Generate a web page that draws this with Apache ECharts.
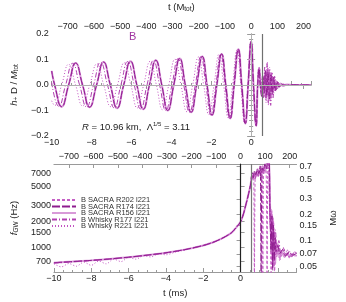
<!DOCTYPE html>
<html><head><meta charset="utf-8">
<script src="https://cdn.jsdelivr.net/npm/echarts@6/dist/echarts.min.js"></script>
<style>html,body{margin:0;padding:0;background:#fff}#c{width:346px;height:302px}</style>
</head><body><div id="c"></div>
<script>
// ---------------- DATA ----------------
const seriesNames = ['B SACRA R202 l221','B SACRA R174 l221','B SACRA R156 l221','B Whisky R177 l221','B Whisky R221 l221'];

// top panel: h+ D / Mtot vs t (ms)
const tPreSacra = [-10,-9.85,-9.50,-9.15,-8.80,-8.45,-8.10,-7.75,-7.40,-7.06,-6.72,-6.39,-6.05,-5.73,-5.41,-5.10,-4.78,-4.48,-4.18,-3.88,-3.58,-3.30,-3.01,-2.73,-2.45,-2.21,-1.96,-1.72,-1.48,-1.27,-1.05,-0.85,-0.64,-0.47,-0.29,-0.15,0.0,0.12,0.25];
const hPreSacra = [0.055,0,-0.085,0,0.086,0,-0.087,0,0.090,0,-0.091,0,0.093,0,-0.095,0,0.097,0,-0.100,0,0.104,0,-0.107,0,0.112,0,-0.118,0,0.122,0,-0.131,0,0.140,0,-0.151,0,0.171,0,-0.160];
const tPostR202 = [0.33,0.41,0.48,0.54,0.61,0.68,0.74,0.81,0.87,0.93,1.00,1.07,1.14,1.22,1.31,1.42,1.55,1.75,2.1,2.6,3.0];
const hPostR202 = [0,0.066,0.01,-0.03,0.035,-0.045,0.06,-0.035,0.065,-0.06,0.05,-0.04,0.03,-0.02,0.012,-0.007,0.003,-0.002,0.001,0,0];
const tPostR174 = [0.33,0.40,0.46,0.53,0.60,0.66,0.72,0.79,0.85,0.92,0.99,1.06,1.13,1.21,1.30,1.40,1.52,1.7,2.0,2.4,3.0];
const hPostR174 = [0,0.062,-0.005,-0.045,0.03,-0.03,0.055,-0.04,0.05,-0.055,0.04,-0.035,0.03,-0.022,0.014,-0.008,0.004,-0.002,0.001,0,0];
const tPostR156 = [0.33,0.40,0.47,0.52,0.58,0.64,0.70,0.76,0.82,0.88,0.95,1.02,1.09,1.17,1.25,1.35,1.47,1.6,1.8,2.1,2.5,3.0];
const hPostR156 = [0,0.068,0.0,-0.035,0.02,-0.04,0.045,-0.05,0.04,-0.04,0.035,-0.03,0.028,-0.02,0.015,-0.01,0.006,-0.004,0.002,0,0,0];
const tW177 = [-10,-9.64,-9.30,-8.95,-8.60,-8.25,-7.90,-7.55,-7.20,-6.86,-6.53,-6.19,-5.86,-5.54,-5.22,-4.90,-4.59,-4.28,-3.97,-3.67,-3.38,-3.09,-2.80,-2.52,-2.27,-2.02,-1.77,-1.53,-1.31,-1.09,-0.88,-0.67,-0.49,-0.31,-0.16,-0.01,0.11,0.24,
  0.32,0.39,0.45,0.50,0.56,0.62,0.68,0.74,0.80,0.86,0.92,0.98,1.04,1.10,1.17,1.25,1.34,1.45,1.6,1.8,2.2,3.0];
const hW177 = [0.01,-0.084,0,0.085,0,-0.086,0,0.089,0,-0.090,0,0.092,0,-0.094,0,0.096,0,-0.099,0,0.103,0,-0.106,0,0.111,0,-0.117,0,0.121,0,-0.130,0,0.138,0,-0.150,0,0.168,0,-0.155,
  0,0.07,0.0,-0.02,0.03,-0.05,0.07,-0.06,0.085,-0.07,0.06,-0.08,0.05,-0.05,0.035,-0.025,0.015,-0.008,0.004,-0.002,0.001,0];
const tW221 = [-10,-9.85,-9.50,-9.15,-8.80,-8.45,-8.09,-7.73,-7.39,-7.04,-6.70,-6.36,-6.03,-5.71,-5.39,-5.06,-4.75,-4.44,-4.13,-3.82,-3.52,-3.22,-2.93,-2.64,-2.38,-2.12,-1.86,-1.61,-1.38,-1.15,-0.93,-0.71,-0.52,-0.33,-0.17,-0.02,0.10,0.23,
  0.31,0.38,0.44,0.50,0.57,0.63,0.69,0.75,0.81,0.87,0.93,0.99,1.05,1.12,1.19,1.27,1.36,1.48,1.65,1.9,3.0];
const hW221 = [-0.062,-0.080,0,0.081,0,-0.082,0,0.083,0,-0.085,0,0.087,0,-0.090,0,0.093,0,-0.097,0,0.101,0,-0.105,0,0.110,0,-0.116,0,0.121,0,-0.129,0,0.137,0,-0.148,0,0.165,0,-0.150,
  0,0.065,0.005,-0.03,0.04,-0.035,0.06,-0.07,0.09,-0.08,0.07,-0.06,0.05,-0.04,0.03,-0.02,0.012,-0.006,0.003,0,0];

// bottom panel: f_GW (Hz) vs t (ms)
const tFPre = [-10,-9,-8,-7,-6,-5,-4,-3,-2,-1.5,-1,-0.5,-0.25,0,0.15,0.3,0.4,0.5];
const fPre  = [670,690,712,740,775,818,870,945,1055,1140,1270,1470,1680,1970,2400,3200,3900,4800];
const tFR202 = [0.55,0.6,0.65,0.7,0.74,0.78,0.85,0.92,1.0,1.08,1.15,1.19,1.23,1.3,1.37,1.42,1.46,1.52,1.58,1.64,1.68,1.72,1.77,1.82,1.88,1.95,2.05,2.2,2.4,2.6,2.8,3.0];
const fR202  = [5500,6800,6000,7100,400,6500,7400,6600,7800,7000,8200,350,7800,8800,7600,400,9000,10000,2800,450,2400,600,2000,500,1300,850,1050,800,900,760,850,800];
const tFR174 = [0.55,0.62,0.68,0.75,0.82,0.9,0.98,1.05,1.1,1.15,1.22,1.3,1.38,1.45,1.52,1.58,1.63,1.68,1.72,1.76,1.8,1.85,1.9,2.0,2.1,2.25,2.4,2.6,2.8,3.0];
const fR174  = [5500,7200,6300,7600,6800,8000,7000,8600,450,8200,7500,9000,8000,9800,11000,2500,900,2300,550,1800,700,1300,900,1050,850,950,800,880,820,860];
const tFR156 = [0.55,0.6,0.66,0.72,0.8,0.88,0.96,1.04,1.12,1.2,1.28,1.36,1.44,1.52,1.58,1.62,1.66,1.7,1.74,1.78,1.82,1.86,1.9,1.95,2.0,2.1,2.2,2.35,2.5,2.65,2.8,2.95,3.0];
const fR156  = [5500,6600,6100,7000,6400,7300,6700,7600,6900,7900,7200,8300,9600,10500,3000,1400,2700,700,2200,600,1500,650,1200,800,1100,750,900,780,850,800,830,810,820];
const tFW177 = [-10,-9,-8,-7,-6,-5,-4,-3,-2,-1.5,-1,-0.5,-0.25,0,0.3,0.5,
  0.55,0.62,0.7,0.78,0.86,0.94,1.02,1.1,1.18,1.26,1.34,1.42,1.5,1.56,1.62,1.7,1.78,1.86,1.95,2.05,2.15,2.3,2.45,2.6,2.75,2.9,3.0];
const fW177  = [660,685,708,738,772,815,866,942,1052,1138,1268,1468,1675,1965,3180,4780,
  5400,6200,7000,6100,7300,6500,7700,6800,8100,7300,8600,7800,9200,2400,1700,2100,1200,1600,1000,1200,850,980,800,920,780,900,850];
const tFW221 = [-10,-9.6,-9.2,-8.8,-8.4,-8.0,-7.6,-7.2,-6.8,-6.4,-6.0,-5.6,-5.2,-4.8,-4.4,-4.0,-3.5,-3.0,-2.5,-2.0,-1.5,-1.0,-0.5,0,0.3,0.5,
  0.55,0.6,0.67,0.74,0.81,0.88,0.95,1.02,1.09,1.16,1.23,1.3,1.38,1.46,1.54,1.6,1.66,1.72,1.8,1.9,2.0,2.1,2.2,2.3,2.4,2.5,2.6,2.7,2.8,2.9,3.0];
const fW221  = [650,600,655,610,680,625,700,650,735,690,770,735,805,780,845,825,885,935,995,1050,1140,1265,1465,1960,3150,4750,
  5400,6900,5900,7500,6300,7900,6600,8300,7000,8800,7400,9300,8000,9900,3500,1800,2600,1100,1500,780,950,700,880,1000,820,950,760,870,820,900,840];

// axis ticks
const msTicks = [-10,-8,-6,-4,-2,0,2];
const mTicks = [-700,-600,-500,-400,-300,-200,-100,0,100,200];
const fTicks = [700,1000,1500,2000,3000,5000,7000];
const mwTicks = [0.05,0.07,0.1,0.15,0.2,0.3,0.5,0.7];

// ---------------- CHART ----------------
const FONT = "'Liberation Sans', Arial, sans-serif";
const FRAME = '#9a9a9a';
const TXT = '#222';
const zip = (xs, ys) => xs.map((x, i) => [x, ys[i]]);
const minus = v => (v < 0 ? '\u2212' + String(Math.abs(v)) : String(v));

const lineStyles = {
  'B SACRA R202 l221': {color:'#c55ec5', type:[3,2], width:1},
  'B SACRA R174 l221': {color:'#8e1c8e', type:[8,2], width:1},
  'B SACRA R156 l221': {color:'#d89ad8', type:'solid', width:2},
  'B Whisky R177 l221': {color:'#b040b0', type:[5,2,1,2], width:1},
  'B Whisky R221 l221': {color:'#c254c2', type:[1,2], width:1}
};
const drawOrder = ['B SACRA R156 l221','B Whisky R221 l221','B Whisky R177 l221','B SACRA R202 l221','B SACRA R174 l221'];

const topData = {
  'B SACRA R202 l221': zip(tPreSacra, hPreSacra).concat(zip(tPostR202, hPostR202)),
  'B SACRA R174 l221': zip(tPreSacra, hPreSacra).concat(zip(tPostR174, hPostR174)),
  'B SACRA R156 l221': zip(tPreSacra, hPreSacra).concat(zip(tPostR156, hPostR156)),
  'B Whisky R177 l221': zip(tW177, hW177),
  'B Whisky R221 l221': zip(tW221, hW221)
};
const botData = {
  'B SACRA R202 l221': zip(tFPre, fPre).concat(zip(tFR202, fR202)),
  'B SACRA R174 l221': zip(tFPre, fPre).concat(zip(tFR174, fR174)),
  'B SACRA R156 l221': zip(tFPre, fPre).concat(zip(tFR156, fR156)),
  'B Whisky R177 l221': zip(tFW177, fW177),
  'B Whisky R221 l221': zip(tFW221, fW221)
};

const series = [];
drawOrder.forEach((name, k) => {
  const ls = lineStyles[name];
  const s = {
    name, type:'line', xAxisIndex:0, yAxisIndex:0, data: topData[name],
    symbol:'none', smooth:0.5, lineStyle:{color:ls.color, type:ls.type, width:ls.width},
    itemStyle:{color:ls.color}, silent:true, animation:false, clip:true
  };
  if (k === 0) {
    s.markLine = {silent:true, symbol:'none', label:{show:false}, animation:false,
      data:[{xAxis:0, lineStyle:{color:'#b0b0b0', width:1, type:'solid'}},
            {xAxis:0.55, lineStyle:{color:'#707070', width:1.2, type:'solid'}},
            {yAxis:0, lineStyle:{color:'#b0b0b0', width:1, type:'solid'}}]};
  }
  series.push(s);
});
drawOrder.forEach((name, k) => {
  const ls = lineStyles[name];
  const s = {
    name, type:'line', xAxisIndex:3, yAxisIndex:2, data: botData[name],
    symbol:'none', smooth:0.3, lineStyle:{color:ls.color, type:ls.type, width:ls.width},
    itemStyle:{color:ls.color}, silent:true, animation:false, clip:true
  };
  if (k === 0) {
    s.markLine = {silent:true, symbol:'none', label:{show:false}, animation:false,
      data:[{xAxis:0, lineStyle:{color:'#222', width:1.2, type:'solid'}},
            {xAxis:0.55, lineStyle:{color:'#777', width:1.2, type:'solid'}}]};
  }
  series.push(s);
});

const lab = (extra) => Object.assign({color:TXT, fontSize:9, fontFamily:FONT}, extra || {});
const tickIn = (len) => ({show:true, inside:true, length:len||4, lineStyle:{color:FRAME}});
const line = {show:true, lineStyle:{color:FRAME, width:1}};

const msAxis = (grid, pos, extra) => Object.assign({
  type:'value', gridIndex:grid, position:pos, min:-10, max:3, interval:2,
  axisLine:line, axisTick:tickIn(4), minorTick:{show:true, splitNumber:4, length:2, lineStyle:{color:FRAME}},
  splitLine:{show:false}, minorSplitLine:{show:false},
  axisLabel:lab({margin:2, formatter:minus, showMaxLabel:false, customValues:msTicks})
}, extra || {});
const mAxis = (grid, extra) => Object.assign({
  type:'value', gridIndex:grid, position:'top', min:-760.7, max:228.2,
  axisLine:line, axisTick:Object.assign(tickIn(4), {customValues:mTicks}),
  splitLine:{show:false},
  axisLabel:lab({margin:3, formatter:minus, customValues:mTicks})
}, extra || {});

const option = {
  animation:false,
  backgroundColor:'#fff',
  textStyle:{fontFamily:FONT},
  grid:[
    {left:39, right:35, top:27, height:109, containLabel:false},
    {left:39, right:35, top:164, height:108, containLabel:false}
  ],
  legend:{
    data:seriesNames, orient:'vertical', left:51, top:196, padding:0,
    itemWidth:24, itemHeight:6, itemGap:-1.5, selectedMode:false,
    itemStyle:{opacity:0},
    textStyle:{fontSize:7.5, lineHeight:6, color:'#333', fontFamily:FONT}
  },
  xAxis:[
    msAxis(0, 'bottom'),
    mAxis(0, {name:'t ({i|M}{sub|tot})', nameLocation:'middle', nameGap:21,
      nameTextStyle:{color:TXT, fontSize:9.5, fontFamily:FONT, lineHeight:12,
        rich:{i:{fontSize:9.5, fontFamily:FONT, color:TXT, lineHeight:12},
              sub:{fontSize:6.5, fontFamily:FONT, color:TXT, verticalAlign:'bottom', lineHeight:12}}}}),
    mAxis(1, {}),
    msAxis(1, 'bottom', {name:'t (ms)', nameLocation:'middle', nameGap:16,
      nameTextStyle:{color:TXT, fontSize:9.5, fontFamily:FONT}})
  ],
  yAxis:[
    {type:'value', gridIndex:0, position:'left', min:-0.2, max:0.2, interval:0.1,
     axisLine:line, axisTick:tickIn(4), minorTick:{show:true, splitNumber:5, length:2, lineStyle:{color:FRAME}},
     splitLine:{show:false},
     axisLabel:lab({margin:3, formatter:v => (v < 0 ? '\u2212' : '') + Math.abs(v).toFixed(1)}),
     name:'{i|h}{sub|+} D / {i|M}{sub|tot}', nameLocation:'middle', nameGap:26,
     nameTextStyle:{color:TXT, fontSize:9.5, fontFamily:FONT, lineHeight:12,
       rich:{i:{fontStyle:'italic', fontSize:9.5, fontFamily:FONT, color:TXT, lineHeight:12},
             sub:{fontSize:6.5, fontFamily:FONT, color:TXT, verticalAlign:'bottom', lineHeight:12}}}},
    {type:'value', gridIndex:0, position:'right', min:-0.2, max:0.2, interval:0.1,
     axisLine:line, axisTick:tickIn(4), minorTick:{show:true, splitNumber:5, length:2, lineStyle:{color:FRAME}},
     splitLine:{show:false}, axisLabel:{show:false}},
    {type:'log', gridIndex:1, position:'left', min:524, max:9040,
     axisLine:line, axisTick:Object.assign(tickIn(4), {customValues:fTicks}),
     splitLine:{show:false}, minorTick:{show:false},
     axisLabel:lab({margin:3, customValues:fTicks, formatter:v => String(Math.round(v))}),
     name:'{i|f}{sub|GW} (Hz)', nameLocation:'middle', nameGap:28,
     nameTextStyle:{color:TXT, fontSize:9.5, fontFamily:FONT, lineHeight:12,
       rich:{i:{fontStyle:'italic', fontSize:9.5, fontFamily:FONT, color:TXT, lineHeight:12},
             sub:{fontSize:6.5, fontFamily:FONT, color:TXT, verticalAlign:'bottom', lineHeight:12}}}},
    {type:'log', gridIndex:1, position:'right', min:0.0435, max:0.750,
     axisLine:line, axisTick:Object.assign(tickIn(4), {customValues:mwTicks}),
     splitLine:{show:false}, minorTick:{show:false},
     axisLabel:lab({margin:3, customValues:mwTicks, formatter:v => String(+v.toFixed(2))}),
     name:'M\u03c9', nameLocation:'middle', nameGap:27,
     nameTextStyle:{color:TXT, fontSize:9.5, fontFamily:FONT}}
  ],
  graphic:[
    {type:'text', left:129, top:31, style:{text:'B', fill:'#a035a0', font:'11px ' + FONT}},
    {type:'text', left:82, top:121, style:{
      text:'{i|R} = 10.96 km,  \u039b{sup|1/5} = 3.11',
      fill:TXT, font:'9.5px ' + FONT,
      rich:{i:{fontStyle:'italic', fontSize:9.5, fontFamily:FONT, fill:TXT, lineHeight:12},
            sup:{fontSize:6, fontFamily:FONT, fill:TXT, verticalAlign:'top', lineHeight:12}}
    }}
  ],
  series
};

const chart = echarts.init(document.getElementById('c'), null, {renderer:'canvas'});
chart.setOption(option);
</script></body></html>
